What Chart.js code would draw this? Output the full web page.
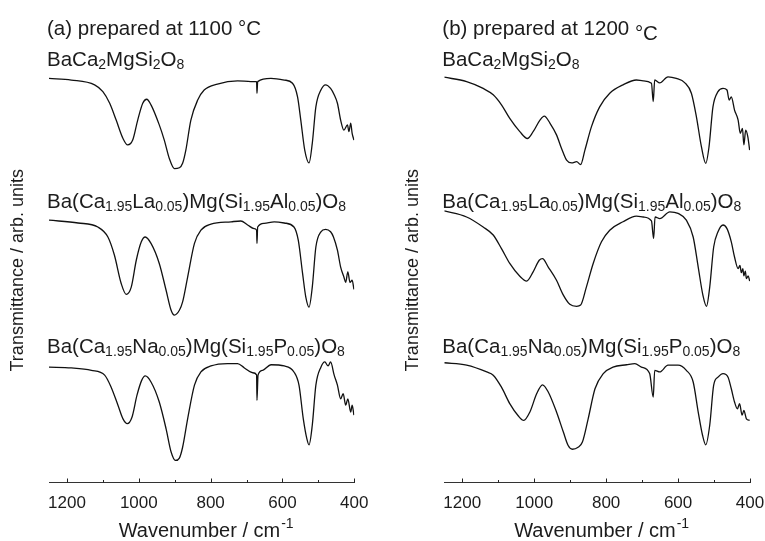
<!DOCTYPE html>
<html>
<head>
<meta charset="utf-8">
<script src="https://cdn.jsdelivr.net/npm/chart.js@4.4.1/dist/chart.umd.min.js"></script>
<style>
  body { margin: 0; background: #fff; }
  canvas { position: absolute; top: 0; }
</style>
</head>
<body>
<canvas id="chartA" width="382" height="541" style="left:0"></canvas>
<canvas id="chartB" width="383" height="541" style="left:382px"></canvas>
<script>
// wavenumbers (cm-1) and transmittance (arb. units, curves offset)
// (a) 1100 C
var wnA1 = [1250,1188,1123,1100,1081,1063,1044,1031,1017,1003,989,978,966,943,929,915,901,887,878,869,855,836,818,781,725,688,672,671,669,632,595,572,558,549,538,526,517,507,493,480,466,456,447,438,429,419,415,410,406,401];
var tA1 = [100.9,100.5,99.3,97.6,94.7,90.5,85.9,84.3,85.5,90.5,94.7,95.7,94.3,89.3,85.5,80.9,78.4,78.6,79.7,83,90.5,95.5,98,99.5,100.3,100.1,100.1,97.2,100.1,100.9,100.5,99.7,96.3,90.5,83,79.8,84.7,93.8,98,99.3,98.4,96.8,94.7,90.5,88,89.3,87.6,89.7,87.2,85.5];

var wnA2 = [1250,1169,1114,1086,1068,1049,1035,1021,1007,993,982,966,943,924,910,901,887,878,864,845,827,799,743,716,697,679,672,671,669,651,623,595,568,556,544,535,526,517,507,493,480,466,458,447,438,429,424,418,412,406,401];
var tA2 = [65.5,64.8,63.8,61.3,56.8,49.7,47,48.8,55.5,60.1,61.3,59.7,54.7,48,43,41.8,43,45.1,51.3,59.7,63,64.5,65.1,65.3,64.3,63.4,63,59.7,63.8,64.7,65.1,64.8,63.8,60.5,52.2,46.3,43.8,48.8,58.8,62.6,63.2,62.6,61.3,58,53.8,51.3,50,52.6,50,50.5,48.2];

var wnA3 = [1250,1188,1132,1095,1077,1058,1044,1032,1019,1005,992,982,966,943,924,910,898,887,878,864,845,827,799,753,725,706,683,672,671,668,655,632,595,568,554,542,532,526,517,507,493,482,473,466,456,447,438,431,424,418,410,406,401];
var tA3 = [28.8,28.6,28,26.8,23.8,19.3,15.9,14.7,16.3,21.8,25.5,26.6,25.1,20.1,13.4,7.6,5.5,6.1,8.8,15.9,24.3,27.6,29.1,29.7,29.7,28.6,27.4,26.9,20.5,26.8,28,29.4,29.1,27.6,24.3,15.9,10.9,9.4,14.3,24.3,28.8,30.1,29.1,30.1,26.8,24.3,20.9,22.2,19.3,20.9,17.6,19.3,16.8];

// (b) 1200 C
var wnB1 = [1250,1188,1142,1114,1091,1068,1040,1019,1003,984,972,956,938,924,910,896,882,871,859,841,818,790,753,716,697,674,669,665,651,628,605,581,563,549,535,523,514,503,489,475,464,458,452,443,433,427,421,417,412,406,401];
var tB1 = [101.2,100.1,98.4,96.8,94.3,90.9,87.6,85.9,87.6,90.5,91.5,89.7,86.8,83.4,80.5,79.8,80.1,79.4,83,88.8,93.8,97.2,99.3,100.5,100.3,99.7,95.1,100.5,99.8,101.3,100.9,99.8,97.2,91.3,83.8,79.7,83.8,93.8,97.6,98.4,98,95.5,96.3,93,90.5,87.2,88.4,84.3,88,86.3,83];

var wnB2 = [1250,1188,1142,1114,1091,1068,1040,1021,1003,986,977,961,938,919,901,882,871,855,836,813,790,753,716,697,674,668,664,651,623,600,577,558,544,531,521,512,501,489,475,464,452,443,433,428,424,420,417,413,410,405,401];
var tB2 = [67.8,66.3,63.8,61.8,58.4,54.7,51.5,50.3,52.6,55.5,55.9,53.8,50.5,46.8,44.5,44,44.3,48.8,54.7,60.1,63,65.1,66.5,66.3,65.3,60.9,66.3,65.9,67.6,67.2,65.5,61.3,53.8,46.8,44,48.8,58.8,62.6,64.3,63.4,60.1,56.3,53.4,54.2,52.4,53.4,51.6,52.8,50.9,51.6,50.3];

var wnB3 = [1250,1188,1132,1114,1091,1068,1044,1029,1012,993,977,961,938,919,906,894,878,866,850,831,808,781,743,720,702,679,669,665,651,628,600,577,558,544,532,523,512,501,489,475,461,452,443,435,429,422,417,410,401];
var tB3 = [29.9,29.3,27.6,26.8,23.8,19.7,16.6,15.5,17.6,22.2,24.4,22.6,17.6,12.6,9.3,8.3,8.8,10.1,15.9,23.4,27.2,28.8,29.4,29.7,28.8,27.2,21.3,28,27.6,29.3,29.3,28,25.1,17.6,11.8,9.4,14.3,24.3,26.3,27.2,26.3,23.4,20.1,18.4,19.7,16.8,18,15.9,15.5];

var xTicks = [1200, 1000, 800, 600, 400];

// sample names, [text, isSubscript]
var nameBase = [["BaCa",0],["2",1],["MgSi",0],["2",1],["O",0],["8",1]];
var nameLaAl = [["Ba(Ca",0],["1.95",1],["La",0],["0.05",1],[")Mg(Si",0],["1.95",1],["Al",0],["0.05",1],[")O",0],["8",1]];
var nameNaP = [["Ba(Ca",0],["1.95",1],["Na",0],["0.05",1],[")Mg(Si",0],["1.95",1],["P",0],["0.05",1],[")O",0],["8",1]];

var FONT = '"Liberation Sans", Arial, sans-serif';
var INK = "#1c1c1c";
Chart.defaults.font.family = FONT;
Chart.defaults.color = INK;

function pts(xs, ys) {
  return xs.map(function (x, i) { return { x: x, y: ys[i] }; });
}

function rich(ctx, parts, x, y) {
  parts.forEach(function (p) {
    ctx.font = (p[1] ? "14px " : "20.5px ") + FONT;
    ctx.fillText(p[0], x, y + (p[1] ? 3 : 0));
    x += ctx.measureText(p[0]).width;
  });
}

function labelsPlugin(temp, dropDegree) {
  return {
    id: "labels",
    afterDraw: function (chart) {
      var ctx = chart.ctx, a = chart.chartArea, xs = chart.scales.x;
      ctx.save();
      ctx.fillStyle = INK;
      ctx.strokeStyle = "#222";
      ctx.textBaseline = "alphabetic";
      ctx.textAlign = "left";
      var lx = a.left - 2;
      // panel title
      ctx.font = "20.5px " + FONT;
      var head = "(" + (dropDegree ? "b" : "a") + ") prepared at " + temp + " ";
      ctx.fillText(head, lx, 35);
      ctx.fillText("°C", lx + ctx.measureText(head).width, dropDegree ? 40 : 35);
      rich(ctx, nameBase, lx, 66);
      rich(ctx, nameLaAl, lx, 208);
      rich(ctx, nameNaP, lx, 353);

      // inward tick marks
      ctx.lineWidth = 1;
      xs.ticks.forEach(function (t) {
        var px = Math.round(xs.getPixelForValue(t.value)) + 0.5;
        var len = t.value % 200 === 0 ? 4 : 2.5;
        ctx.beginPath();
        ctx.moveTo(px, a.bottom);
        ctx.lineTo(px, a.bottom - len);
        ctx.stroke();
      });

      // x title with superscript
      ctx.font = "20px " + FONT;
      var main = "Wavenumber / cm";
      var w1 = ctx.measureText(main).width;
      ctx.font = "14px " + FONT;
      var w2 = ctx.measureText("-1").width;
      var sx = (xs.left + xs.right) / 2 + 4 - (w1 + w2) / 2;
      ctx.font = "20px " + FONT;
      ctx.fillText(main, sx, 537);
      ctx.font = "14px " + FONT;
      ctx.fillText("-1", sx + w1 + 1, 528);

      // y title
      ctx.translate(a.left - 31, (a.top + a.bottom) / 2 - 2);
      ctx.rotate(-Math.PI / 2);
      ctx.textAlign = "center";
      ctx.textBaseline = "middle";
      ctx.font = "18px " + FONT;
      ctx.fillText("Transmittance / arb. units", 0, 0);
      ctx.restore();
    }
  };
}

function makePanel(id, series, temp, dropDegree, padL, padR) {
  var sets = series.map(function (s) {
    return {
      data: pts(s[0], s[1]),
      borderColor: "#111",
      borderWidth: 1.3,
      pointRadius: 0,
      cubicInterpolationMode: "monotone",
      fill: false
    };
  });
  return new Chart(document.getElementById(id), {
    type: "line",
    data: { datasets: sets },
    options: {
      responsive: false,
      animation: false,
      layout: { padding: { left: padL, right: padR, top: 62, bottom: 0 } },
      plugins: { legend: { display: false }, tooltip: { enabled: false } },
      scales: {
        x: {
          type: "linear",
          reverse: true,
          min: 400,
          max: 1250,
          grid: { display: false },
          border: { display: true, color: "#333", width: 1 },
          afterFit: function (s) {
            s.height = 58.5;
            s.paddingLeft = 0;
            s.paddingRight = 0;
          },
          ticks: {
            stepSize: 100,
            includeBounds: false,
            autoSkip: false,
            maxRotation: 0,
            padding: 3,
            color: INK,
            font: { size: 17 },
            callback: function (v) { return xTicks.indexOf(v) >= 0 ? String(v) : ""; }
          }
        },
        y: { display: false, min: 0, max: 105 }
      }
    },
    plugins: [labelsPlugin(temp, dropDegree)]
  });
}

makePanel("chartA", [[wnA1, tA1], [wnA2, tA2], [wnA3, tA3]], "1100", false, 49, 27.7);
makePanel("chartB", [[wnB1, tB1], [wnB2, tB2], [wnB3, tB3]], "1200", true, 62.3, 15);
</script>
</body>
</html>
